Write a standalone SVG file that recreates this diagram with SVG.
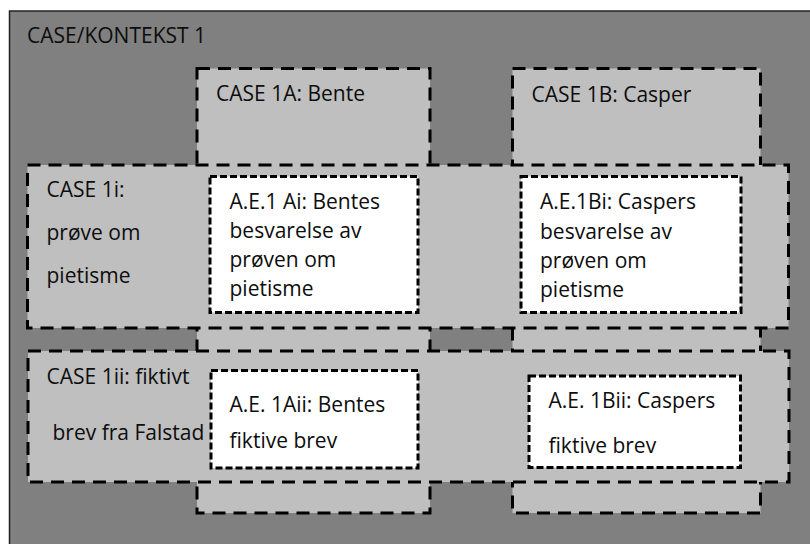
<svg xmlns="http://www.w3.org/2000/svg" width="810" height="544" viewBox="0 0 810 544">
  <style>
    .ctx { fill: #808080; stroke: #222; stroke-width: 1.5; }
    .case { fill: #bfbfbf; stroke: #000; stroke-width: 3; stroke-dasharray: 13 8; }
    .ae { fill: #fff; stroke: #000; stroke-width: 3; stroke-dasharray: 7 3; }
    text { font-family: "Open Sans", "Liberation Sans", sans-serif; font-size: 21px; fill: #0d0d0d; }
  </style>

  <!-- outer context -->
  <g id="kontekst">
    <rect class="ctx" x="9.5" y="11" width="820" height="560"/>
    <text x="27" y="43">CASE/KONTEKST 1</text>
  </g>

  <!-- vertical cases (persons) -->
  <g id="case-1A">
    <rect class="case" x="197" y="68.5" width="233" height="444.5"/>
    <text x="216" y="101">CASE 1A: Bente</text>
  </g>
  <g id="case-1B">
    <rect class="case" x="512.5" y="68.5" width="248" height="444.5"/>
    <text x="531.5" y="101.5">CASE 1B: Casper</text>
  </g>

  <!-- horizontal cases (tasks) -->
  <g id="case-1i">
    <rect class="case" x="27.5" y="165" width="761" height="163"/>
    <text x="46.5" y="197">CASE 1i:</text>
    <text x="46.5" y="240">prøve om</text>
    <text x="46.5" y="283">pietisme</text>
  </g>
  <g id="case-1ii">
    <rect class="case" x="28" y="351" width="761" height="131"/>
    <text x="46.5" y="383.5">CASE 1ii: fiktivt</text>
    <text x="52.5" y="439.5">brev fra Falstad</text>
  </g>

  <!-- analysis units -->
  <g id="ae-1Ai">
    <rect class="ae" x="210" y="176.5" width="208" height="136"/>
    <text x="229.5" y="208.5">A.E.1 Ai: Bentes</text>
    <text x="229.5" y="237.5">besvarelse av</text>
    <text x="229.5" y="267">prøven om</text>
    <text x="229.5" y="296">pietisme</text>
  </g>
  <g id="ae-1Bi">
    <rect class="ae" x="521" y="176.5" width="220" height="136"/>
    <text x="540" y="209">A.E.1Bi: Caspers</text>
    <text x="540" y="238.5">besvarelse av</text>
    <text x="540" y="268">prøven om</text>
    <text x="540" y="297">pietisme</text>
  </g>
  <g id="ae-1Aii">
    <rect class="ae" x="211" y="370.5" width="207" height="97.5"/>
    <text x="229.5" y="411.5">A.E. 1Aii: Bentes</text>
    <text x="229.5" y="447.5">fiktive brev</text>
  </g>
  <g id="ae-1Bii">
    <rect class="ae" x="529" y="376" width="211.5" height="91.5"/>
    <text x="548.5" y="407.5">A.E. 1Bii: Caspers</text>
    <text x="548.5" y="452.5">fiktive brev</text>
  </g>

  <g id="connectors"/>
</svg>
